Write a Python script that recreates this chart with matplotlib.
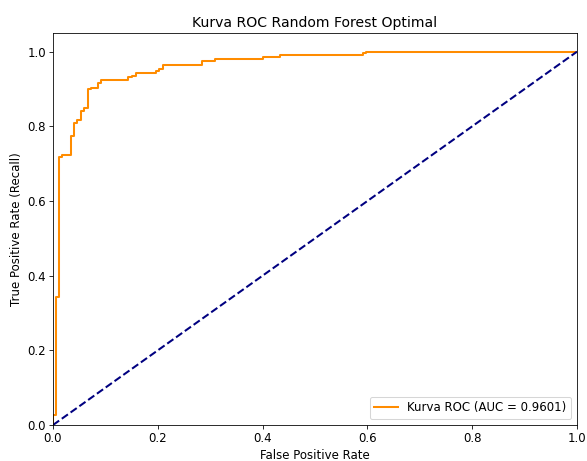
import matplotlib
matplotlib.use("Agg")
import matplotlib.pyplot as plt

# ROC curve corner points
fpr = [0.0, 0.0, 0.006, 0.006, 0.012, 0.012, 0.017, 0.017, 0.034, 0.034,
       0.040, 0.040, 0.046, 0.046, 0.053, 0.053, 0.060, 0.060, 0.066, 0.066,
       0.0725, 0.0725, 0.0865, 0.0865, 0.092, 0.092, 0.144, 0.144, 0.150, 0.150,
       0.158, 0.158, 0.197, 0.197, 0.202, 0.202, 0.2106, 0.2106, 0.284, 0.284,
       0.309, 0.309, 0.400, 0.400, 0.433, 0.433, 0.592, 0.592, 0.597, 0.597, 1.0]
tpr = [0.0, 0.027, 0.027, 0.343, 0.343, 0.719, 0.719, 0.724, 0.724, 0.775,
       0.775, 0.808, 0.808, 0.817, 0.817, 0.841, 0.841, 0.849, 0.849, 0.900,
       0.900, 0.904, 0.904, 0.916, 0.916, 0.924, 0.924, 0.931, 0.931, 0.936,
       0.936, 0.942, 0.942, 0.948, 0.948, 0.954, 0.954, 0.965, 0.965, 0.974,
       0.974, 0.980, 0.980, 0.985, 0.985, 0.992, 0.992, 0.9966, 0.9966, 1.0, 1.0]
auc_score = 0.9601

dpi = 73.3
plt.rcParams['font.size'] = 11.5
fig = plt.figure(figsize=(587 / dpi, 461 / dpi), dpi=dpi)
ax = fig.add_axes([53 / 587, 1 - 425 / 461, 524 / 587, 392 / 461])

ax.plot(fpr, tpr, color='darkorange', lw=2, label=f'Kurva ROC (AUC = {auc_score:.4f})')
ax.plot([0, 1], [0, 1], color='navy', lw=2, linestyle='--')
ax.set_xlim(0.0, 1.0)
ax.set_ylim(0.0, 1.05)
ax.set_xlabel('False Positive Rate')
ax.set_ylabel('True Positive Rate (Recall)')
ax.set_title('Kurva ROC Random Forest Optimal', fontsize=13.8)
ax.legend(loc='lower right')

fig.savefig('out.png', dpi=dpi)
